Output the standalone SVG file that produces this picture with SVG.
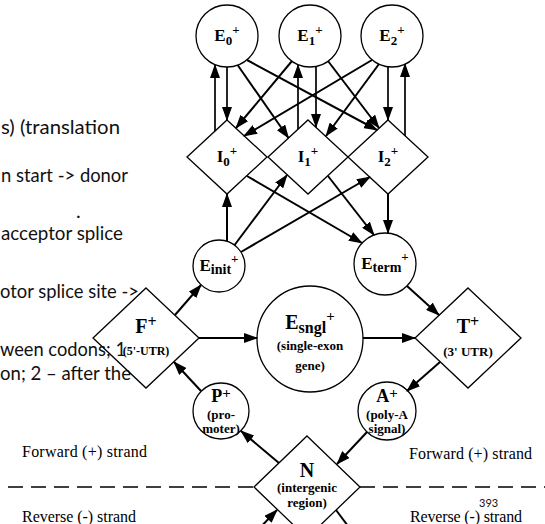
<svg xmlns="http://www.w3.org/2000/svg" width="545" height="524" viewBox="0 0 545 524">
<defs>
<marker id="ah" markerWidth="14" markerHeight="10" refX="13" refY="5" orient="auto" markerUnits="userSpaceOnUse"><path d="M0,0 L14,5 L0,10 z" fill="#000"/></marker>
<style>
.d{fill:none;stroke:#000;stroke-width:1.3}
.c{fill:#fff;stroke:#000;stroke-width:1.3}
.lbl{font-family:"Liberation Serif","Times New Roman",serif;font-weight:bold;text-anchor:middle;fill:#000}
.big{font-size:20px}
.mid{font-size:17px}
.sm{font-size:13px}
.e{stroke:#000;stroke-width:2;fill:none;marker-end:url(#ah)}
.v{stroke-width:1.7}
.slide{font-family:Lato,"Open Sans","Liberation Sans",sans-serif;font-size:20px;fill:#111}
.strand{font-family:"Liberation Serif","Times New Roman",serif;font-size:16px;fill:#000}
</style>
</defs>
<rect width="545" height="524" fill="#fff"/>

<!-- partially hidden slide text on the left -->
<g id="slide-text" class="slide">
<text x="1" y="134" textLength="119" lengthAdjust="spacingAndGlyphs">s) (translation</text>
<text x="1" y="182" textLength="127" lengthAdjust="spacingAndGlyphs">n start -&gt; donor</text>
<text x="76" y="218">.</text>
<text x="1" y="240" textLength="122" lengthAdjust="spacingAndGlyphs">acceptor splice</text>
<text x="0" y="298" textLength="139" lengthAdjust="spacingAndGlyphs">otor splice site -&gt;</text>
<text x="0" y="356" textLength="126" lengthAdjust="spacingAndGlyphs">ween codons; 1</text>
<text x="0" y="380" textLength="131" lengthAdjust="spacingAndGlyphs">on; 2 – after the</text>
</g>

<!-- strand separator -->
<g id="strand-divider">
<path d="M8,487 H253 M360,487 H545" stroke="#000" stroke-width="1.5" stroke-dasharray="15,8" fill="none"/>
<text class="strand" x="22" y="457" textLength="125" lengthAdjust="spacing">Forward (+) strand</text>
<text class="strand" x="409" y="459" textLength="123" lengthAdjust="spacing">Forward (+) strand</text>
<text class="strand" x="22" y="522" textLength="114" lengthAdjust="spacing">Reverse (-) strand</text>
<text class="strand" x="410" y="522" textLength="112" lengthAdjust="spacing">Reverse (-) strand</text>
<text x="479" y="507" font-family="Lato,'Open Sans',sans-serif" font-size="11" fill="#111">393</text>
</g>

<!-- exon states, top row -->
<g id="E0">
<circle class="c" cx="227" cy="36" r="31"/>
<text class="lbl mid" x="227" y="41">E<tspan class="sm" dy="4">0</tspan><tspan class="sm" dy="-11">+</tspan></text>
</g>
<g id="E1">
<circle class="c" cx="310" cy="36" r="31"/>
<text class="lbl mid" x="310" y="41">E<tspan class="sm" dy="4">1</tspan><tspan class="sm" dy="-11">+</tspan></text>
</g>
<g id="E2">
<circle class="c" cx="392" cy="36" r="31"/>
<text class="lbl mid" x="392" y="41">E<tspan class="sm" dy="4">2</tspan><tspan class="sm" dy="-11">+</tspan></text>
</g>

<!-- intron states -->
<g id="I0">
<path class="d" d="M227,120 L267,157 L227,194 L187,157 Z"/>
<text class="lbl mid" x="227" y="162">I<tspan class="sm" dy="4">0</tspan><tspan class="sm" dy="-11">+</tspan></text>
</g>
<g id="I1">
<path class="d" d="M308,120 L348,157 L308,194 L268,157 Z"/>
<text class="lbl mid" x="308" y="162">I<tspan class="sm" dy="4">1</tspan><tspan class="sm" dy="-11">+</tspan></text>
</g>
<g id="I2">
<path class="d" d="M388,120 L428,157 L388,194 L348,157 Z"/>
<text class="lbl mid" x="388" y="162">I<tspan class="sm" dy="4">2</tspan><tspan class="sm" dy="-11">+</tspan></text>
</g>

<g id="Einit">
<circle class="c" cx="219" cy="266" r="26"/>
<text class="lbl mid" x="219" y="271">E<tspan font-size="14" dy="3">init</tspan><tspan class="sm" dy="-11">+</tspan></text>
</g>
<g id="Eterm">
<circle class="c" cx="385" cy="264" r="31"/>
<text class="lbl mid" x="385" y="269">E<tspan font-size="14" dy="3">term</tspan><tspan class="sm" dy="-11">+</tspan></text>
</g>

<g id="F">
<path class="d" d="M146,288 L199,338 L146,388 L93,338 Z"/>
<text class="lbl big" x="146" y="333">F<tspan font-size="16" dy="-6">+</tspan></text>
<text class="lbl" font-size="12" x="146" y="355">(5'-UTR)</text>
</g>
<g id="Esngl">
<circle class="c" cx="310" cy="339" r="53"/>
<text class="lbl big" x="310" y="329">E<tspan font-size="16" dy="4">sngl</tspan><tspan font-size="15" dy="-12">+</tspan></text>
<text class="lbl sm" x="310" y="350">(single-exon</text>
<text class="lbl sm" x="310" y="370">gene)</text>
</g>
<g id="T">
<path class="d" d="M468,288 L521,338 L468,388 L415,338 Z"/>
<text class="lbl big" x="468" y="333">T<tspan font-size="16" dy="-6">+</tspan></text>
<text class="lbl sm" x="468" y="356">(3' UTR)</text>
</g>
<g id="P">
<circle class="c" cx="221" cy="411" r="28"/>
<text class="lbl" font-size="18" x="221" y="402">P<tspan font-size="15" dy="-4">+</tspan></text>
<text class="lbl sm" x="221" y="419">(pro-</text>
<text class="lbl sm" x="221" y="433">moter)</text>
</g>
<g id="A">
<circle class="c" cx="387" cy="411" r="29"/>
<text class="lbl" font-size="18" x="387" y="402">A<tspan font-size="15" dy="-4">+</tspan></text>
<text class="lbl sm" x="387" y="419">(poly-A</text>
<text class="lbl sm" x="387" y="433">signal)</text>
</g>
<g id="N">
<path class="d" d="M307,436 L360,487 L307,538 L254,487 Z"/>
<text class="lbl big" x="307" y="477">N</text>
<text class="lbl sm" x="307" y="492">(intergenic</text>
<text class="lbl sm" x="307" y="507">region)</text>
</g>

<!-- transitions -->
<g id="connectors">
<path class="e v" d="M227,67 L227,120"/>
<path class="e v" d="M215,131 L215,65"/>
<path class="e v" d="M316,67 L316,127"/>
<path class="e v" d="M298,129 L298,65"/>
<path class="e v" d="M388,67 L388,120"/>
<path class="e v" d="M405,136 L405,64"/>
<path class="e" d="M237.6,65 L288.5,138"/>
<path class="e" d="M247,60 L377,130"/>
<path class="e" d="M292,61 L236,128"/>
<path class="e" d="M328,61 L379,128"/>
<path class="e" d="M372,60 L244,136"/>
<path class="e" d="M379,64 L326,136"/>
<path class="e" d="M247,176 L362,243"/>
<path class="e" d="M328,176 L374,235"/>
<path class="e" d="M388,194 L388,233"/>
<path class="e" d="M227,241 L227,194"/>
<path class="e" d="M234.6,245 L287,175"/>
<path class="e" d="M241,252 L370,177"/>
<path class="e" d="M175,315 L201,285"/>
<path class="e" d="M199,338 L257,338"/>
<path class="e" d="M363,338 L415,338"/>
<path class="e" d="M407,286 L439,315"/>
<path class="e" d="M440,362 L407,391"/>
<path class="e" d="M367,432 L337,464"/>
<path class="e" d="M279,463 L241,431"/>
<path class="e" d="M201,391 L174,362"/>
<path class="e" d="M254,534 L277,510"/>
<path d="M336,510 L354,534" stroke="#000" stroke-width="2" fill="none"/>
</g>
</svg>
